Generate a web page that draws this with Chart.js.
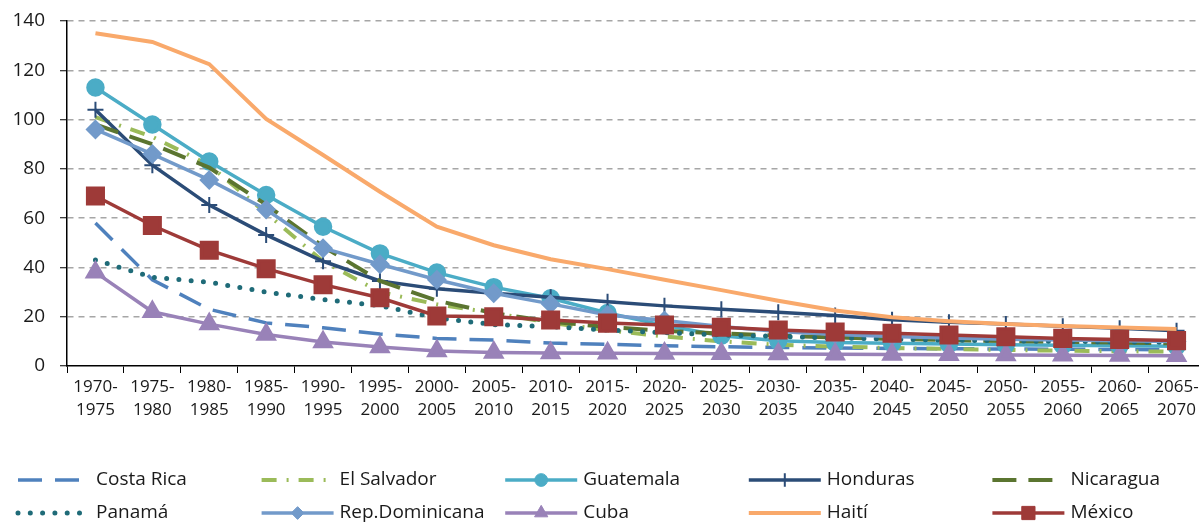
<!DOCTYPE html>
<html>
<head>
<meta charset="utf-8">
<script src="https://cdn.jsdelivr.net/npm/chart.js@4"></script>
<style>
  html, body { margin: 0; padding: 0; background: #fff; overflow: hidden; }
  #wrap { width: 1199px; height: 522px; overflow: hidden; }
</style>
</head>
<body>
<div id="wrap"><canvas id="myChart" width="1205" height="522"></canvas></div>
<script>
const periods = [
  ["1970-", "1975"], ["1975-", "1980"], ["1980-", "1985"], ["1985-", "1990"],
  ["1990-", "1995"], ["1995-", "2000"], ["2000-", "2005"], ["2005-", "2010"],
  ["2010-", "2015"], ["2015-", "2020"], ["2020-", "2025"], ["2025-", "2030"],
  ["2030-", "2035"], ["2035-", "2040"], ["2040-", "2045"], ["2045-", "2050"],
  ["2050-", "2055"], ["2055-", "2060"], ["2060-", "2065"], ["2065-", "2070"]
];

const costaRica = [58, 35, 23, 17.5, 15.5, 13, 11.2, 10.5, 9.3, 8.8, 8.2, 7.8, 7.5, 7.3, 7.1, 7, 6.9, 6.8, 6.7, 6.6];
const elSalvador = [101, 93, 81.5, 62, 42.5, 30, 25, 21.5, 17.5, 14.5, 12, 10, 8.6, 7.9, 7.3, 6.9, 6.5, 6.2, 6, 5.8];
const guatemala = [113, 98, 83, 69.4, 56.5, 45.7, 37.9, 32, 27.5, 21.5, 16.5, 12.3, 10.2, 9.5, 9.2, 8.9, 8.6, 8.4, 8.2, 8];
const honduras = [104, 81.5, 65.3, 53.2, 42.5, 34.5, 31.3, 29.5, 27.9, 26.1, 24.4, 23, 21.8, 20.5, 18.8, 17.8, 17, 16.1, 15.3, 14.3];
const nicaragua = [98, 90, 80.5, 65.5, 48.5, 34.5, 26.5, 21.5, 18, 15.8, 14.3, 13.2, 12.3, 11.6, 11, 10.5, 10.1, 9.8, 9.5, 9.2];
const panama = [43, 36, 34, 30, 27, 24.5, 19.5, 16.8, 16, 14.6, 13.5, 12.6, 12, 11.4, 10.9, 10.5, 10.2, 10, 9.8, 9.6];
const repDominicana = [96, 86, 75.5, 63.5, 47.8, 41.3, 35, 29.5, 25.2, 20.7, 18.5, 16, 14, 12.8, 12, 11.4, 10.9, 10.5, 10.2, 9.9];
const cuba = [38, 22, 17, 12.8, 9.7, 7.7, 6.1, 5.5, 5.3, 5.2, 5.1, 5, 4.9, 4.8, 4.7, 4.6, 4.5, 4.4, 4.3, 4.2];
const haiti = [135, 131.5, 122.5, 100.3, 85.6, 70.7, 56.5, 49, 43.3, 39.3, 35, 30.8, 26.5, 22.5, 19.8, 18.2, 17, 16.2, 15.6, 15];
const mexico = [69, 57, 47, 39.5, 33, 27.7, 20.3, 20, 18.7, 17.4, 16.6, 15.7, 14.6, 13.8, 13.3, 12.6, 11.9, 11.2, 10.8, 10.3];

const yTicks = [0, 20, 40, 60, 80, 100, 120, 140];

const FONT = "'Open Sans', 'Noto Sans', sans-serif";

function series(label, data, color, extra) {
  return Object.assign({
    label,
    data,
    borderColor: color,
    backgroundColor: color,
    pointBackgroundColor: color,
    pointBorderColor: color,
    borderWidth: 3.5,
    pointRadius: 0,
    pointHoverRadius: 0,
    tension: 0,
    fill: false,
    clip: false,
  }, extra || {});
}

const datasets = [
  series("Costa Rica", costaRica, "#4F81BD", { borderDash: [24, 13] }),
  series("El Salvador", elSalvador, "#9BBB59", { borderDash: [15, 10, 2, 10], borderWidth: 4 }),
  series("Guatemala", guatemala, "#4BACC6", { pointStyle: "circle", pointRadius: 7.5 }),
  series("Honduras", honduras, "#2B4C77", { pointStyle: "cross", pointRadius: 8, pointBorderWidth: 2 }),
  series("Nicaragua", nicaragua, "#5B7530", { borderDash: [24, 12], borderWidth: 4 }),
  series("Panamá", panama, "#1F6B78", { borderDash: [0, 12.3], borderCapStyle: "round", borderWidth: 5 }),
  series("Rep.Dominicana", repDominicana, "#729ACA", { pointStyle: "rectRot", pointRadius: 7.5 }),
  series("Cuba", cuba, "#9982B8", { pointStyle: "triangle", pointRadius: 9 }),
  series("Haití", haiti, "#F9A96B", { borderWidth: 4 }),
  series("México", mexico, "#9E3A38", { pointStyle: "rect", pointRadius: 11 }),
];
// later series on top, like the original
datasets.forEach((d, i) => { d.order = datasets.length - i; });

// legend drawn below the axis, two rows of five
const legendBelow = {
  id: "legendBelow",
  afterDraw(chart) {
    const ctx = chart.ctx;
    const rows = [480, 513];
    ctx.save();
    chart.data.datasets.forEach((ds, i) => {
      const x0 = 18 + (i % 5) * 243.6;
      const y = rows[Math.floor(i / 5)];
      ctx.save();
      ctx.strokeStyle = ds.borderColor;
      ctx.lineWidth = ds.borderWidth;
      ctx.lineCap = ds.borderCapStyle || "butt";
      ctx.setLineDash(ds.borderDash || []);
      ctx.beginPath();
      ctx.moveTo(x0, y);
      ctx.lineTo(x0 + 72, y);
      ctx.stroke();
      ctx.restore();
      if (ds.pointRadius) {
        ctx.fillStyle = ds.borderColor;
        ctx.strokeStyle = ds.borderColor;
        ctx.lineWidth = ds.pointBorderWidth || 1;
        Chart.helpers.drawPoint(ctx, {
          pointStyle: ds.pointStyle,
          radius: ds.pointRadius * 0.85,
          borderWidth: ds.pointBorderWidth || 1,
          rotation: 0,
        }, x0 + 36, y);
      }
      ctx.fillStyle = "#1a1a1a";
      ctx.font = "19px " + FONT;
      ctx.textBaseline = "middle";
      ctx.textAlign = "left";
      ctx.fillText(ds.label, x0 + 78, y);
    });
    ctx.restore();
  },
};

const ctx = document.getElementById("myChart").getContext("2d");

const config = {
  type: "line",
  data: { labels: periods, datasets },
  options: {
    responsive: false,
    animation: false,
    events: [],
    layout: { autoPadding: false, padding: { top: 21, right: 0, bottom: 0, left: 0 } },
    plugins: {
      legend: { display: false },
      tooltip: { enabled: false },
    },
    scales: {
      x: {
        type: "category",
        offset: true,
        afterFit: (scale) => {
          scale.height = 156;
          scale.paddingLeft = 0;
          scale.paddingRight = 0;
        },
        grid: {
          offset: true,
          drawOnChartArea: false,
          drawTicks: true,
          tickLength: 7,
          tickColor: "#000",
          tickWidth: 1,
        },
        border: { display: true, color: "#000", width: 1.5 },
        ticks: {
          autoSkip: false,
          maxRotation: 0,
          minRotation: 0,
          padding: 3,
          color: "#1a1a1a",
          font: { family: FONT, size: 17, lineHeight: 1.35 },
        },
      },
      y: {
        min: 0,
        max: 140,
        afterFit: (scale) => {
          scale.width = 67;
          scale.paddingTop = 0;
          scale.paddingBottom = 0;
        },
        afterBuildTicks: (scale) => { scale.ticks = yTicks.map((v) => ({ value: v })); },
        grid: {
          color: (c) => (c.tick && c.tick.value === 0 ? "rgba(0,0,0,0)" : "#A6A6A6"),
          lineWidth: 1.5,
          drawTicks: true,
          tickLength: 7,
          tickColor: "#000",
          tickWidth: 1,
          tickBorderDash: [],
        },
        border: { display: true, color: "#000", width: 1.5, dash: [6, 5] },
        ticks: {
          padding: 15,
          color: "#1a1a1a",
          font: { family: FONT, size: 19 },
        },
      },
    },
  },
  plugins: [legendBelow],
};

const myChart = new Chart(ctx, config);
</script>
</body>
</html>
